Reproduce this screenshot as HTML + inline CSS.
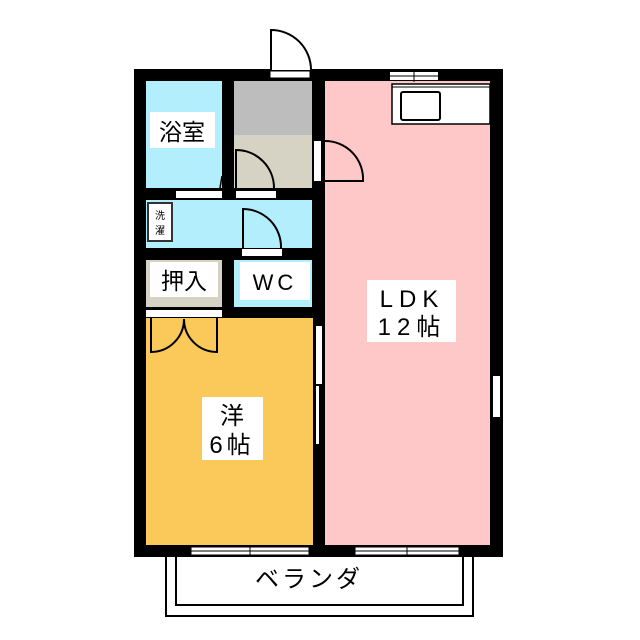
<!DOCTYPE html>
<html><head><meta charset="utf-8"><style>html,body{margin:0;padding:0;background:#fff}svg{display:block}</style></head><body>
<svg width="640" height="640" viewBox="0 0 640 640" xmlns="http://www.w3.org/2000/svg" font-family="'Liberation Sans','Noto Sans CJK JP',sans-serif">
<!-- balcony -->
<rect x="166" y="550" width="307" height="66" fill="none" stroke="#000" stroke-width="2"/>
<rect x="176" y="550" width="287" height="55" fill="#fff" stroke="#000" stroke-width="2"/>
<text x="309" y="587" font-size="24" text-anchor="middle" letter-spacing="3">ベランダ</text>
<!-- outer walls -->
<rect x="134" y="69" width="369" height="488" fill="#000"/>
<!-- rooms -->
<rect x="146" y="81" width="76" height="107" fill="#B2EEFB"/>
<rect x="234" y="81" width="78" height="54" fill="#BDBDBD"/>
<rect x="234" y="135" width="78" height="53" fill="#D6D3C5"/>
<rect x="146" y="200" width="166" height="48" fill="#B2EEFB"/>
<rect x="146" y="260" width="76" height="47" fill="#D6D3C5"/>
<rect x="234" y="260" width="78" height="47" fill="#B2EEFB"/>
<rect x="146" y="318" width="167" height="227" fill="#FBC85A"/>
<rect x="325" y="81" width="165" height="464" fill="#FFC8C8"/>
<!-- entry door -->
<rect x="270" y="71" width="40" height="7" fill="#fff" stroke="#000" stroke-width="1"/>
<path d="M271 70 V30 A40 40 0 0 1 311 70" fill="#fff" stroke="#000" stroke-width="2"/>
<!-- bath door sills -->
<rect x="176" y="191" width="46" height="7" fill="#fff"/>
<path d="M220 188 L222 176" stroke="#000" stroke-width="1.5"/>
<rect x="236" y="191" width="40" height="7" fill="#fff"/>
<path d="M236 188 V150 A38 38 0 0 1 274 188" fill="none" stroke="#000" stroke-width="2"/>
<!-- LDK door -->
<rect x="314" y="141" width="7" height="40" fill="#fff"/>
<path d="M325 141 A38 38 0 0 1 363 181 H325" fill="none" stroke="#000" stroke-width="2"/>
<!-- washer -->
<rect x="148" y="203" width="24" height="38" fill="#fff" stroke="#333" stroke-width="2"/>
<text x="160" y="219" font-size="10" text-anchor="middle">洗</text>
<text x="160" y="234" font-size="10" text-anchor="middle">濯</text>
<!-- WC door -->
<rect x="242" y="249" width="40" height="7" fill="#fff"/>
<path d="M243 248 V209 A38 38 0 0 1 281 248" fill="none" stroke="#000" stroke-width="2"/>
<!-- closet -->
<rect x="146" y="310" width="76" height="7" fill="#fff"/>
<path d="M151 318 V352 A33 33 0 0 0 184 319 A33 33 0 0 0 217 352 V318" fill="none" stroke="#000" stroke-width="2"/>
<!-- room door panels -->
<rect x="316" y="326" width="6" height="58" fill="#fff"/>
<rect x="316" y="386" width="3" height="58" fill="#fff"/>
<!-- LDK right window -->
<rect x="493" y="376" width="7" height="41" fill="#fff"/>
<!-- top window -->
<rect x="390" y="72" width="48" height="8" fill="#fff"/>
<path d="M390 76 H438 M414 70 V82" stroke="#000" stroke-width="1"/>
<!-- kitchen -->
<rect x="392" y="84" width="98" height="40" fill="#fff" stroke="#000" stroke-width="1.5"/>
<path d="M392 87 H490" stroke="#000" stroke-width="1"/>
<rect x="401" y="92" width="39" height="28" rx="2" fill="#fff" stroke="#000" stroke-width="2"/>
<!-- bottom windows -->
<g stroke="#000" stroke-width="1">
<rect x="191" y="547" width="118" height="8" fill="#fff"/>
<path d="M191 551 H309 M250 545 V557"/>
<rect x="355" y="547" width="104" height="8" fill="#fff"/>
<path d="M355 551 H459 M407 545 V557"/>
</g>
<!-- labels -->
<rect x="150" y="112" width="65" height="36" fill="#fff"/>
<text x="182" y="140" font-size="23" text-anchor="middle">浴室</text>
<rect x="150" y="262" width="68" height="35" fill="#fff"/>
<text x="184" y="289" font-size="23" text-anchor="middle">押入</text>
<rect x="240" y="262" width="70" height="38" fill="#fff"/>
<text x="275" y="290" font-size="22" text-anchor="middle" letter-spacing="4">WC</text>
<rect x="367" y="280" width="89" height="62" fill="#fff"/>
<text x="412" y="307" font-size="24" text-anchor="middle" letter-spacing="6">LDK</text>
<text x="412" y="335" font-size="24" text-anchor="middle" letter-spacing="6">12帖</text>
<rect x="202" y="397" width="61" height="63" fill="#fff"/>
<text x="232" y="424" font-size="24" text-anchor="middle">洋</text>
<text x="232" y="453" font-size="24" text-anchor="middle" letter-spacing="4">6帖</text>
</svg>
</body></html>
